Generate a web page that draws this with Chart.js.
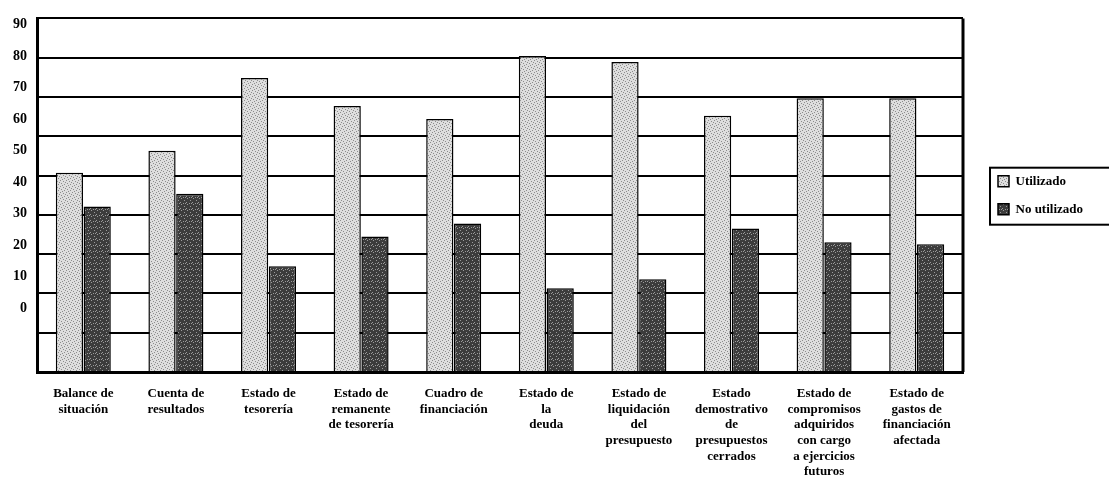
<!DOCTYPE html>
<html>
<head>
<meta charset="utf-8">
<script src="https://cdn.jsdelivr.net/npm/chart.js@4.4.0/dist/chart.umd.min.js"></script>
<style>
  html, body { margin: 0; padding: 0; background: #fff; }
  #wrap { width: 1109px; height: 481px; }
</style>
</head>
<body>
<div id="wrap"><canvas id="myChart"></canvas></div>
<script>
const categories = [
    ["Balance de", "situación"],
    ["Cuenta de", "resultados"],
    ["Estado de", "tesorería"],
    ["Estado de", "remanente", "de tesorería"],
    ["Cuadro de", "financiación"],
    ["Estado de", "la", "deuda"],
    ["Estado de", "liquidación", "del", "presupuesto"],
    ["Estado", "demostrativo", "de", "presupuestos", "cerrados"],
    ["Estado de", "compromisos", "adquiridos", "con cargo", "a ejercicios", "futuros"],
    ["Estado de", "gastos de", "financiación", "afectada"]
];
const utilizado = [50.7, 56.3, 74.8, 67.7, 64.4, 80.4, 78.9, 65.2, 69.7, 69.7];
const noUtilizado = [42.1, 45.4, 26.9, 34.5, 37.8, 21.3, 23.6, 36.5, 33.0, 32.5];
const yTickLabels = [90, 80, 70, 60, 50, 40, 30, 20, 10, 0];

document.addEventListener("DOMContentLoaded", function () {
    const canvas = document.getElementById("myChart");
    const ctx = canvas.getContext("2d");

    // speckled fills like the scanned print
    function stipple(base, dot, dots) {
        const c = document.createElement("canvas");
        c.width = 6;
        c.height = 6;
        const g = c.getContext("2d");
        g.fillStyle = base;
        g.fillRect(0, 0, 6, 6);
        g.fillStyle = dot;
        dots.forEach(function (p) { g.fillRect(p[0], p[1], 1, 1); });
        return ctx.createPattern(c, "repeat");
    }
    const lightFill = stipple("#dedede", "#8c8c8c", [[0, 0], [3, 1], [1, 3], [4, 4], [5, 2], [2, 5]]);
    const darkFill = stipple("#3c3c3c", "#9a9a9a", [[1, 0], [4, 2], [0, 4], [3, 5], [5, 5]]);

    const serif = "'Liberation Serif', 'DejaVu Serif', serif";

    const frame = {
        id: "frame",
        beforeLayout(chart) {
            const legend = chart.legend;
            if (legend && !legend._wide) {
                const fit = legend.fit;
                legend.fit = function () {
                    fit.call(this);
                    this.width = 146;
                };
                legend._wide = true;
            }
        },
        afterLayout(chart) {
            chart.legend.left += 20;
        },
        afterDraw(chart) {
            const c = chart.ctx;
            const area = chart.chartArea;
            const lg = chart.legend;
            c.save();
            c.strokeStyle = "#000";
            c.lineWidth = 3;
            c.beginPath();
            c.moveTo(area.right, area.top);
            c.lineTo(area.right, area.bottom);
            c.stroke();
            // box round the legend
            const colH = 2 * (13 + 15);
            const startY = (lg.top + 15 + lg.bottom - colH) / 2;
            c.lineWidth = 2;
            c.strokeRect(lg.left + 7, startY - 7, chart.width, colH + 1);
            c.restore();
        }
    };

    new Chart(ctx, {
        type: "bar",
        data: {
            labels: categories,
            datasets: [
                {
                    label: "Utilizado",
                    data: utilizado,
                    backgroundColor: lightFill,
                    borderColor: "#000",
                    borderWidth: 1.5,
                },
                {
                    label: "No utilizado",
                    data: noUtilizado,
                    backgroundColor: darkFill,
                    borderColor: "#000",
                    borderWidth: 1.5,
                },
            ],
        },
        options: {
            responsive: true,
            maintainAspectRatio: false,
            animation: false,
            layout: { padding: { top: 17, left: 0, right: 0, bottom: 0 } },
            datasets: {
                bar: { categoryPercentage: 0.6, barPercentage: 0.98 },
            },
            plugins: {
                tooltip: { enabled: false },
                legend: {
                    position: "right",
                    fullSize: false,
                    labels: {
                        color: "#000",
                        boxWidth: 11,
                        boxHeight: 11,
                        padding: 15,
                        font: { family: serif, size: 13, weight: "bold" },
                    },
                },
            },
            scales: {
                x: {
                    grid: { display: false, drawTicks: false },
                    border: { display: true, color: "#000", width: 3 },
                    ticks: {
                        color: "#000",
                        padding: 14,
                        maxRotation: 0,
                        autoSkip: false,
                        font: { family: serif, size: 13, weight: "bold", lineHeight: 1.2 },
                    },
                    afterFit: function (scale) { scale.height = 109; },
                },
                y: {
                    min: 0,
                    max: 90,
                    weight: 0,
                    ticks: { display: false, stepSize: 10 },
                    grid: { color: "#000", lineWidth: 2, drawTicks: false },
                    border: { display: true, color: "#000", width: 3 },
                    afterFit: function (scale) { scale.width = 0; },
                },
                yLab: {
                    type: "linear",
                    position: "left",
                    min: -20.2,
                    max: 91.9,
                    weight: 1,
                    grid: { display: false, drawTicks: false },
                    border: { display: false },
                    ticks: {
                        color: "#000",
                        padding: 10,
                        font: { family: serif, size: 14, weight: "bold" },
                    },
                    afterBuildTicks: function (scale) {
                        scale.ticks = yTickLabels.map(function (v) { return { value: v }; });
                    },
                    afterFit: function (scale) { scale.width = 37; },
                },
            },
        },
        plugins: [frame],
    });
});
</script>
</body>
</html>
